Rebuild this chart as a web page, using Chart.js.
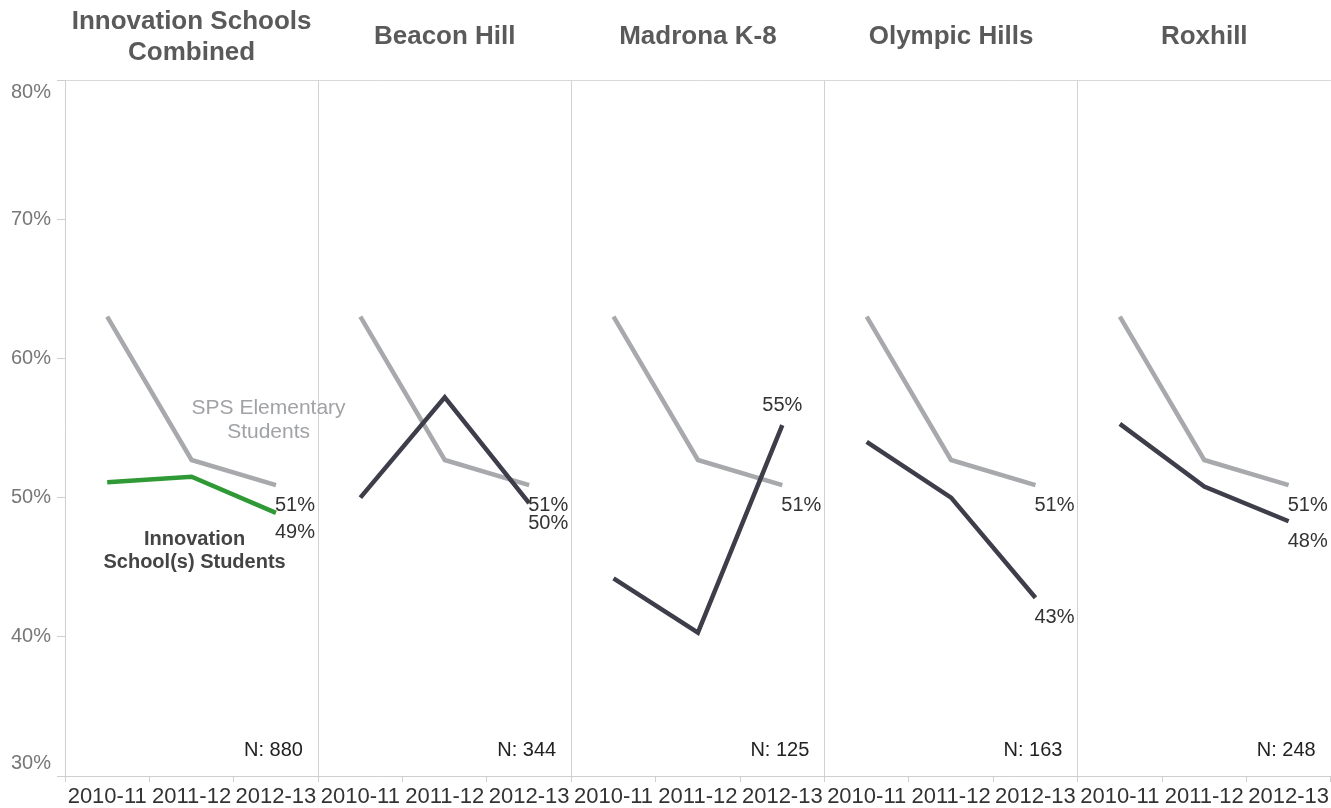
<!DOCTYPE html>
<html lang="en">
<head>
    <meta charset="UTF-8">
    <title>Innovation Schools</title>
    <script src="https://cdn.jsdelivr.net/npm/chart.js"></script>
    <style>
        body { margin: 0; background: #fff; }
        #wrap { width: 1331px; height: 808px; }
    </style>
</head>
<body>
    <div id="wrap"><canvas id="chart" width="1331" height="808"></canvas></div>

    <script>
        // values (percent)
        const seasons = ['2010-11', '2011-12', '2012-13'];
        const panelTitles = [['Innovation Schools', 'Combined'], ['Beacon Hill'], ['Madrona K-8'], ['Olympic Hills'], ['Roxhill']];
        const spsElementary = [63.0, 52.7, 50.9];
        const innovationCombined = [51.1, 51.5, 48.9];
        const beaconHill = [50.0, 57.2, 49.6];
        const madrona = [44.2, 40.3, 55.2];
        const olympicHills = [54.0, 50.0, 42.8];
        const roxhill = [55.3, 50.8, 48.3];
        const nCounts = [880, 344, 125, 163, 248];
        const labelAbove = [false, false, true, false, false];

        const GRAY = '#a7a9ac';
        const DARK = '#3d3e4a';
        const GREEN = '#2f9a35';
        const FONT = '"Liberation Sans", Arial, sans-serif';

        // one long category axis, three seasons per panel
        const labels = [];
        panelTitles.forEach(() => seasons.forEach(s => labels.push(s)));
        const blank = [null, null, null];
        const spsData = [].concat(spsElementary, spsElementary, spsElementary, spsElementary, spsElementary);
        const combinedData = [].concat(innovationCombined, blank, blank, blank, blank);
        const schoolData = [].concat(blank, beaconHill, madrona, olympicHills, roxhill);

        // break lines between panels
        const breakSeg = { borderColor: ctx => ctx.p0DataIndex % 3 === 2 ? 'transparent' : undefined };

        const overlay = {
            id: 'overlay',
            afterDatasetsDraw(chart) {
                const c = chart.ctx;
                const x = chart.scales.x, y = chart.scales.y;
                c.save();

                // end labels of the y axis sit inside the range, like the original
                c.fillStyle = '#777';
                c.font = '20px ' + FONT;
                c.textAlign = 'right';
                c.textBaseline = 'middle';
                c.fillText(y.max + '%', 51, y.getPixelForValue(y.max) + 12);
                c.fillText(y.min + '%', 51, y.getPixelForValue(y.min) - 13);

                // panel titles
                c.fillStyle = '#5a5a5a';
                c.font = 'bold 26px ' + FONT;
                c.textAlign = 'center';
                panelTitles.forEach((t, i) => {
                    const cx = (x.getPixelForValue(i * 3) + x.getPixelForValue(i * 3 + 2)) / 2;
                    if (t.length === 2) {
                        c.fillText(t[0], cx, 22);
                        c.fillText(t[1], cx, 53);
                    } else {
                        c.fillText(t[0], cx, 37);
                    }
                });

                // N counts
                c.font = '20px ' + FONT;
                c.fillStyle = '#222';
                c.textAlign = 'right';
                nCounts.forEach((n, i) => {
                    const right = x.getPixelForValue(i * 3 + 2) + 27;
                    c.fillText('N: ' + n, right, 750);
                });

                // end value labels
                c.fillStyle = '#333';
                for (let i = 0; i < 5; i++) {
                    const idx = i * 3 + 2;
                    const px = x.getPixelForValue(idx);
                    c.textAlign = 'left';
                    c.fillText(Math.round(spsData[idx]) + '%', px - 1, y.getPixelForValue(spsData[idx]) + 20);
                    const v = i === 0 ? combinedData[idx] : schoolData[idx];
                    if (labelAbove[i]) {
                        c.textAlign = 'center';
                        c.fillText(Math.round(v) + '%', px, y.getPixelForValue(v) - 20);
                    } else {
                        c.textAlign = 'left';
                        c.fillText(Math.round(v) + '%', px - 1, y.getPixelForValue(v) + 20);
                    }
                }

                // series annotations in the first panel
                c.textAlign = 'center';
                c.fillStyle = '#a0a2a5';
                c.font = '21px ' + FONT;
                const sx = x.getPixelForValue(1) + 77;
                c.fillText('SPS Elementary', sx, y.getPixelForValue(56.4));
                c.fillText('Students', sx, y.getPixelForValue(56.4) + 24);
                c.fillStyle = '#444';
                c.font = 'bold 20px ' + FONT;
                const ix = x.getPixelForValue(1) + 3;
                c.fillText('Innovation', ix, y.getPixelForValue(47.0));
                c.fillText('School(s) Students', ix, y.getPixelForValue(47.0) + 23);

                c.restore();
            }
        };

        new Chart(document.getElementById('chart'), {
            type: 'line',
            data: {
                labels: labels,
                datasets: [
                    { label: 'Innovation Schools Combined', data: combinedData, borderColor: GREEN, borderWidth: 4.5, pointRadius: 0 },
                    { label: 'Innovation School(s) Students', data: schoolData, borderColor: DARK, borderWidth: 4.5, pointRadius: 0, segment: breakSeg },
                    { label: 'SPS Elementary Students', data: spsData, borderColor: GRAY, borderWidth: 4.5, pointRadius: 0, segment: breakSeg }
                ]
            },
            options: {
                responsive: false,
                animation: false,
                layout: { padding: { top: 80, right: 0, left: 0, bottom: 0 } },
                plugins: { legend: { display: false }, tooltip: { enabled: false } },
                elements: { line: { tension: 0, borderCapStyle: 'butt', borderJoinStyle: 'miter' } },
                scales: {
                    x: {
                        offset: true,
                        afterFit: s => { s.height = 32; },
                        grid: {
                            offset: true,
                            tickLength: 6,
                            color: ctx => (ctx.index % 3 === 0 && ctx.index > 0) ? '#d2d2d2' : 'transparent',
                            tickColor: '#cfcfcf'
                        },
                        border: { color: '#cfcfcf' },
                        ticks: {
                            autoSkip: false,
                            maxRotation: 0,
                            padding: 2,
                            color: '#333',
                            font: { size: 22, family: FONT }
                        }
                    },
                    y: {
                        min: 30,
                        max: 80,
                        afterFit: s => { s.width = 65; },
                        grid: {
                            tickLength: 8,
                            color: ctx => ctx.tick.value === 80 ? '#d8d8d8' : 'transparent',
                            tickColor: '#cfcfcf'
                        },
                        border: { color: '#cfcfcf' },
                        ticks: {
                            stepSize: 10,
                            padding: 6,
                            color: '#777',
                            font: { size: 20, family: FONT },
                            callback: v => (v === 30 || v === 80) ? '' : v + '%'
                        }
                    }
                }
            },
            plugins: [overlay]
        });
    </script>
</body>
</html>
